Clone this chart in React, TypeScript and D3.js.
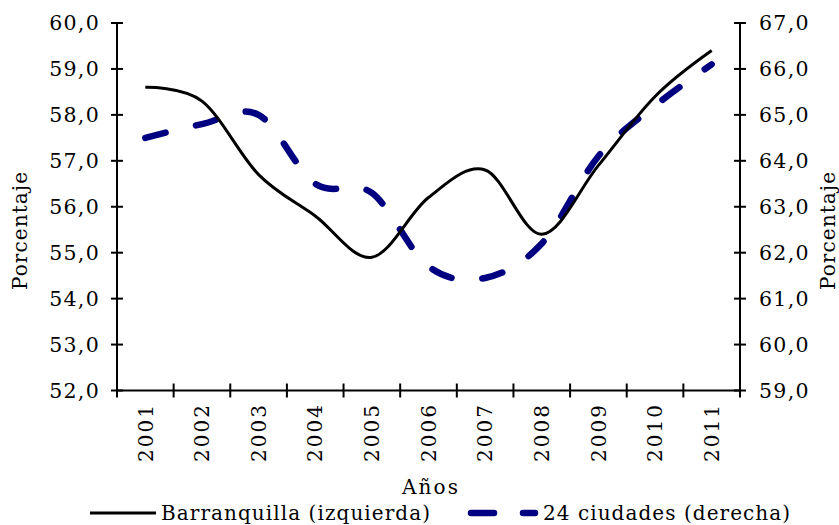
import React from "react";
import * as d3 from "d3";

const years = ["2001","2002","2003","2004","2005","2006","2007","2008","2009","2010","2011"];
const barranquilla = [58.6, 58.3, 56.7, 55.8, 54.9, 56.2, 56.8, 55.4, 56.9, 58.4, 59.4];
const ciudades24 = [64.5, 64.8, 65.0, 63.5, 63.3, 61.7, 61.45, 62.2, 64.1, 65.2, 66.1];
const leftTicks = [52, 53, 54, 55, 56, 57, 58, 59, 60];
const rightTicks = [59, 60, 61, 62, 63, 64, 65, 66, 67];
const seriesNames = ["Barranquilla (izquierda)", "24 ciudades (derecha)"];

const W = 839, H = 525;
const L = 117, R = 740, T = 23, B = 390.5;
const FONT = "'DejaVu Serif', serif";

export default function App() {
  const x = d3.scaleBand<string>().domain(years).range([L, R]).padding(0);
  const yL = d3.scaleLinear().domain([52, 60]).range([B, T]);
  const yR = d3.scaleLinear().domain([59, 67]).range([B, T]);
  const cx = (i: number) => (x(years[i]) as number) + x.bandwidth() / 2;
  const curve = d3.curveCardinal.tension(0);
  const lineL = d3.line<number>().x((_, i) => cx(i)).y((d) => yL(d)).curve(curve);
  const lineR = d3.line<number>().x((_, i) => cx(i)).y((d) => yR(d)).curve(curve);
  const fmt = (v: number) => v.toFixed(1).replace(".", ",");
  const boundaries = years.map((y) => x(y) as number).concat([R]);

  return (
    <svg width={W} height={H} style={{ position: "absolute", left: 0, top: 0, background: "#fff" }}>
      <rect x={0} y={0} width={W} height={H} fill="#fff" />
      {/* lines */}
      <path d={lineR(ciudades24) || ""} fill="none" stroke="#000080" strokeWidth={6.5}
        strokeDasharray="21 31" strokeLinecap="round" />
      <path d={lineL(barranquilla) || ""} fill="none" stroke="#000" strokeWidth={3} />
      {/* axes */}
      <line x1={L} x2={L} y1={T} y2={B} stroke="#000" strokeWidth={2} />
      <line x1={R} x2={R} y1={T} y2={B} stroke="#000" strokeWidth={2} />
      <line x1={L} x2={R} y1={B} y2={B} stroke="#000" strokeWidth={2} />
      {leftTicks.map((t) => (
        <g key={"l" + t}>
          <line x1={L - 6} x2={L + 6} y1={yL(t)} y2={yL(t)} stroke="#000" strokeWidth={2} />
          <text x={100} y={yL(t)} dy="0.36em" textAnchor="end" fontFamily={FONT} fontSize={20.5}
            letterSpacing={1.3} fill="#000">{fmt(t)}</text>
        </g>
      ))}
      {rightTicks.map((t) => (
        <g key={"r" + t}>
          <line x1={R - 6} x2={R + 6} y1={yR(t)} y2={yR(t)} stroke="#000" strokeWidth={2} />
          <text x={759} y={yR(t)} dy="0.36em" textAnchor="start" fontFamily={FONT} fontSize={20.5}
            letterSpacing={1.3} fill="#000">{fmt(t)}</text>
        </g>
      ))}
      {boundaries.map((b, i) => (
        <line key={"xt" + i} x1={b} x2={b} y1={B - 7} y2={B + 7} stroke="#000" strokeWidth={2} />
      ))}
      {years.map((yr, i) => (
        <text key={yr} transform={`translate(${cx(i)},${405}) rotate(-90)`} dy="0.36em"
          textAnchor="end" fontFamily={FONT} fontSize={20} textLength={57} lengthAdjust="spacing"
          fill="#000">{yr}</text>
      ))}
      <text x={402} y={487} dy="0.36em" textAnchor="start" fontFamily={FONT} fontSize={20}
        textLength={56} lengthAdjust="spacing" fill="#000">Años</text>
      <text transform={`translate(20,290) rotate(-90)`} dy="0.36em" textAnchor="start"
        fontFamily={FONT} fontSize={20} textLength={118} lengthAdjust="spacing" fill="#000">Porcentaje</text>
      <text transform={`translate(828,290) rotate(-90)`} dy="0.36em" textAnchor="start"
        fontFamily={FONT} fontSize={20} textLength={118} lengthAdjust="spacing" fill="#000">Porcentaje</text>
      {/* legend */}
      <line x1={90} x2={156} y1={513} y2={513} stroke="#000" strokeWidth={3} />
      <text x={161} y={513} dy="0.36em" fontFamily={FONT} fontSize={20} textLength={269}
        lengthAdjust="spacing" fill="#000">{seriesNames[0]}</text>
      <line x1={471} x2={535} y1={513} y2={513} stroke="#000080" strokeWidth={6.5}
        strokeDasharray="23 29" strokeLinecap="round" />
      <text x={543} y={513} dy="0.36em" fontFamily={FONT} fontSize={20} textLength={247}
        lengthAdjust="spacing" fill="#000">{seriesNames[1]}</text>
    </svg>
  );
}
